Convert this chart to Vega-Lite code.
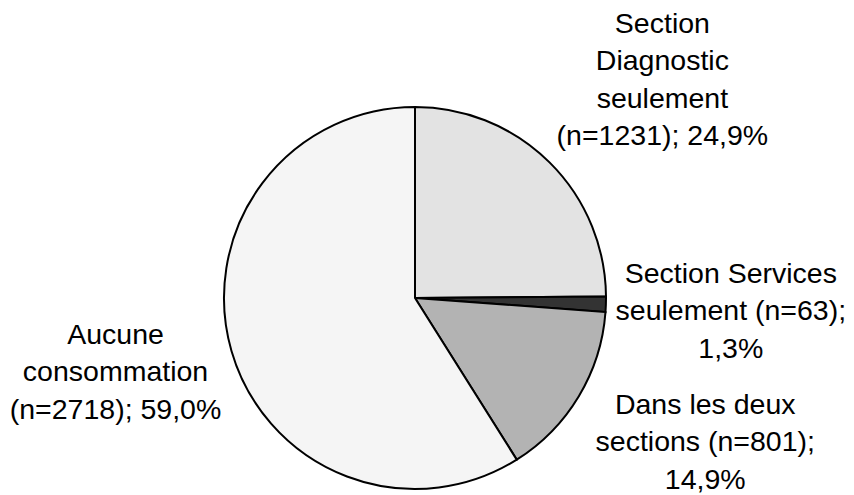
{
  "$schema": "https://vega.github.io/schema/vega-lite/v6.json",
  "width": 830,
  "height": 384,
  "autosize": {"type": "none"},
  "padding": {"left": 0, "top": 106, "right": 24, "bottom": 5},
  "background": "white",
  "config": {"view": {"stroke": null}},
  "data": {
    "values": [
      {"ord": 1, "category": "Section Diagnostic seulement", "value": 24.9, "label": "Section\nDiagnostic\nseulement\n(n=1231); 24,9%"},
      {"ord": 2, "category": "Section Services seulement", "value": 1.3, "label": "Section Services\nseulement (n=63);\n1,3%"},
      {"ord": 3, "category": "Dans les deux sections", "value": 14.9, "label": "Dans les deux\nsections (n=801);\n14,9%"},
      {"ord": 4, "category": "Aucune consommation", "value": 59.0, "label": "Aucune\nconsommation\n(n=2718); 59,0%"}
    ]
  },
  "encoding": {
    "theta": {"field": "value", "type": "quantitative", "stack": true},
    "order": {"field": "ord", "type": "quantitative", "sort": "ascending"}
  },
  "layer": [
    {
      "mark": {"type": "arc", "outerRadius": 191, "stroke": "black", "strokeWidth": 2},
      "encoding": {
        "color": {
          "field": "category",
          "type": "nominal",
          "scale": {
            "domain": ["Section Diagnostic seulement", "Section Services seulement", "Dans les deux sections", "Aucune consommation"],
            "range": ["#e3e3e3", "#333333", "#b3b3b3", "#f5f5f5"]
          },
          "legend": null
        }
      }
    },
    {
      "mark": {"type": "text", "radius": 320, "dx": 22, "dy": -47, "font": "Liberation Sans", "fontSize": 28.5, "lineHeight": 37.5, "lineBreak": "\n", "align": "center", "baseline": "middle", "color": "black"},
      "encoding": {"text": {"condition": {"test": "datum.ord === 1", "field": "label", "type": "nominal"}, "value": ""}}
    },
    {
      "mark": {"type": "text", "radius": 320, "dx": -4, "dy": -35, "font": "Liberation Sans", "fontSize": 28.5, "lineHeight": 37.5, "lineBreak": "\n", "align": "center", "baseline": "middle", "color": "black"},
      "encoding": {"text": {"condition": {"test": "datum.ord === 2", "field": "label", "type": "nominal"}, "value": ""}}
    },
    {
      "mark": {"type": "text", "radius": 320, "dx": 16, "dy": -58, "font": "Liberation Sans", "fontSize": 28.5, "lineHeight": 37.5, "lineBreak": "\n", "align": "center", "baseline": "middle", "color": "black"},
      "encoding": {"text": {"condition": {"test": "datum.ord === 3", "field": "label", "type": "nominal"}, "value": ""}}
    },
    {
      "mark": {"type": "text", "radius": 320, "dx": 8, "dy": -52, "font": "Liberation Sans", "fontSize": 28.5, "lineHeight": 37.5, "lineBreak": "\n", "align": "center", "baseline": "middle", "color": "black"},
      "encoding": {"text": {"condition": {"test": "datum.ord === 4", "field": "label", "type": "nominal"}, "value": ""}}
    }
  ]
}
